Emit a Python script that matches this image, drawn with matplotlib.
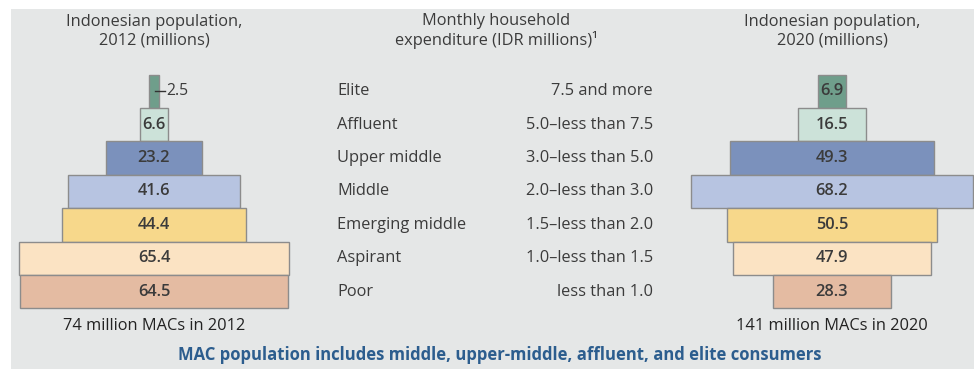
import matplotlib.pyplot as plt
from matplotlib.patches import Rectangle

# classes, top to bottom
classi = ["Elite", "Affluent", "Upper middle", "Middle", "Emerging middle", "Aspirant", "Poor"]
spesa = ["7.5 and more", "5.0\u2013less than 7.5", "3.0\u2013less than 5.0", "2.0\u2013less than 3.0",
         "1.5\u2013less than 2.0", "1.0\u2013less than 1.5", "less than 1.0"]
pop_2012 = [2.5, 6.6, 23.2, 41.6, 44.4, 65.4, 64.5]
pop_2020 = [6.9, 16.5, 49.3, 68.2, 50.5, 47.9, 28.3]
colori = ["#6f9e8b", "#cce2d9", "#7b91bc", "#b7c4e1", "#f7d88b", "#fbe3c3", "#e4bba2"]

plt.rcParams['font.family'] = ['Open Sans', 'DejaVu Sans']
testo = "#3b3b3b"
fs = 11.8

fig = plt.figure(figsize=(9.74, 3.69), dpi=100)
fig.patch.set_facecolor("white")
ax = fig.add_axes([0, 0, 1, 1])
ax.set_xlim(0, 974)
ax.set_ylim(369, 0)
ax.axis("off")

# grey panel
ax.add_patch(Rectangle((11, 9), 974 - 11, 369 - 9, facecolor="#e5e7e7", edgecolor="none", zorder=0))

scala = 4.14      # px per million
riga0, h = 74.5, 33.4

def piramide(cx, valori, titolo, nota):
    y = [riga0 + h * (i + 0.5) for i in range(len(valori))]
    larg = [v * scala for v in valori]
    ax.barh(y, larg, height=h, left=[cx - w / 2 for w in larg], color=colori,
            edgecolor="#8c8c8c", linewidth=1.0, zorder=2)
    for v, yy, w in zip(valori, y, larg):
        if w < 20:
            # too narrow: label outside with a leader line
            ax.plot([cx + 1, cx + 11], [yy, yy], color="#333333", lw=1, zorder=3)
            ax.text(cx + 12, yy, f"{v}", ha="left", va="center", fontsize=fs - 0.5,
                    color=testo, zorder=3)
        else:
            ax.text(cx, yy, f"{v}", ha="center", va="center", fontsize=fs,
                    color=testo, fontweight="semibold", zorder=3)
    ax.text(cx, 31, titolo, ha="center", va="center", fontsize=fs, color=testo,
            linespacing=1.2)
    ax.text(cx, 326, nota, ha="center", va="center", fontsize=fs, color="#222222")

piramide(154, pop_2012, "Indonesian population,\n2012 (millions)", "74 million MACs in 2012")
piramide(832, pop_2020, "Indonesian population,\n2020 (millions)", "141 million MACs in 2020")

ax.text(496, 31, "Monthly household\nexpenditure (IDR millions)\u00b9", ha="center", va="center",
        fontsize=fs, color=testo, linespacing=1.2)
for i, (c, s) in enumerate(zip(classi, spesa)):
    yy = riga0 + h * (i + 0.5)
    ax.text(337, yy, c, ha="left", va="center", fontsize=fs, color=testo)
    ax.text(653, yy, s, ha="right", va="center", fontsize=fs, color=testo)

ax.text(500, 355, "MAC population includes middle, upper-middle, affluent, and elite consumers",
        ha="center", va="center", fontsize=12, color="#2c5d8e", fontweight="bold")

fig.savefig("out.png", dpi=100)
